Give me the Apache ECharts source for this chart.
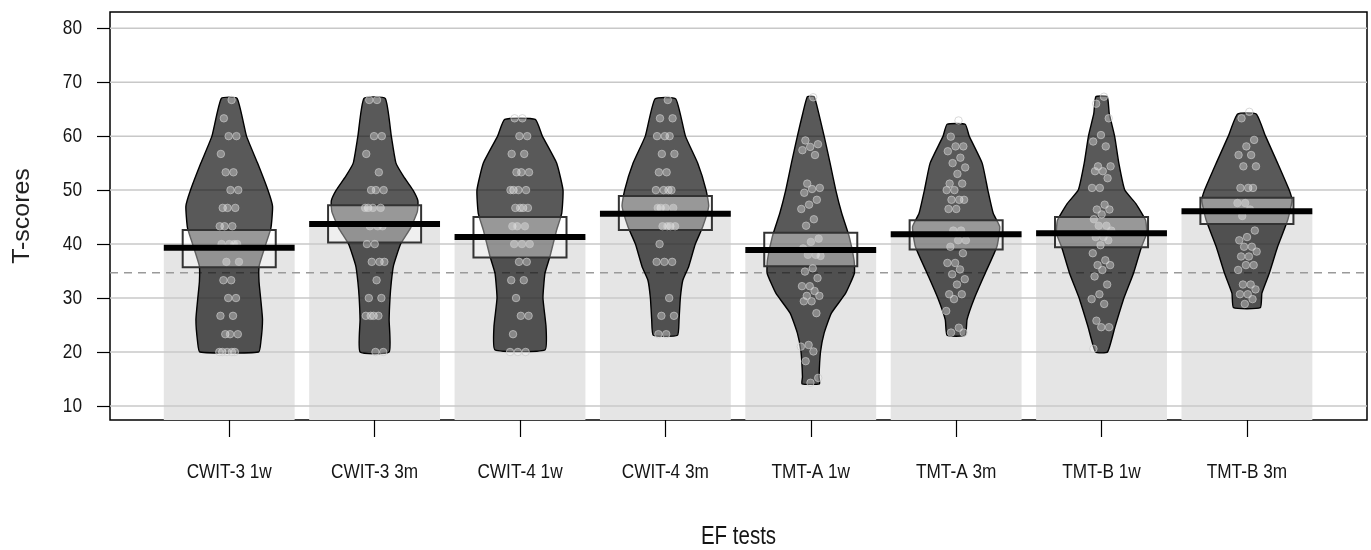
<!DOCTYPE html>
<html>
<head>
<meta charset="utf-8">
<script src="https://cdn.jsdelivr.net/npm/echarts@6/dist/echarts.min.js"></script>
<style>
html,body{margin:0;padding:0;background:#fff;}
#chart{width:1371px;height:550px;}
</style>
</head>
<body>
<div id="chart"></div>
<script>
const categories = ['CWIT-3 1w','CWIT-3 3m','CWIT-4 1w','CWIT-4 3m','TMT-A 1w','TMT-A 3m','TMT-B 1w','TMT-B 3m'];
const yTicks = [10,20,30,40,50,60,70,80];
const means   = [39.3, 43.7, 41.3, 45.6, 38.9, 41.8, 42.0, 46.1];
const hdiLow  = [35.7, 40.3, 37.5, 42.6, 35.9, 39.0, 39.4, 43.7];
const hdiHigh = [42.6, 47.2, 45.0, 48.9, 42.1, 44.4, 45.0, 48.6];
const refLine = 34.7;
const xTitle = 'EF tests';
const yTitle = 'T-scores';

// bean outlines: [T-score, half width in category units]
const beanCWIT3_1w = [[20,0.202],[22,0.218],[26,0.229],[30,0.216],[33,0.205],[36,0.206],[40,0.252],[43,0.287],[47,0.298],[50,0.266],[55,0.195],[60,0.119],[67,0.054]];
const beanCWIT3_3m = [[20,0.10],[26,0.10],[30,0.106],[33,0.115],[36,0.13],[40,0.179],[43,0.248],[46,0.294],[48,0.298],[50,0.264],[52.5,0.20],[55,0.147],[60,0.115],[67,0.073]];
const beanCWIT4_1w = [[20.4,0.172],[24.7,0.179],[30,0.158],[34.6,0.172],[37.7,0.206],[42.6,0.252],[45.7,0.287],[50,0.296],[55,0.252],[60,0.154],[63.1,0.105]];
const beanCWIT4_3m = [[23.1,0.083],[26,0.094],[30,0.103],[33.3,0.12],[35.8,0.16],[40,0.206],[43.2,0.257],[47,0.298],[50,0.28],[55,0.222],[60,0.138],[66.9,0.071]];
const beanTMTA_1w  = [[14.1,0.06],[15.4,0.057],[20,0.067],[23.5,0.092],[27.2,0.142],[30.9,0.24],[34.6,0.30],[37,0.298],[41.4,0.264],[45.7,0.213],[50,0.172],[55,0.133],[60,0.092],[64.2,0.055],[67.3,0.023]];
const beanTMTA_3m  = [[23.1,0.062],[26,0.075],[30,0.126],[34.6,0.2],[39.5,0.28],[43.2,0.30],[45.7,0.255],[50,0.218],[55,0.179],[60,0.09],[62.2,0.062]];
const beanTMTB_1w  = [[20,0.041],[24.6,0.092],[30,0.154],[34.6,0.22],[39.5,0.275],[42,0.31],[44.4,0.303],[47.5,0.236],[50,0.16],[55,0.119],[60,0.09],[64.2,0.053],[67.3,0.039]];
const beanTMTB_3m  = [[28.2,0.092],[30.9,0.103],[34.6,0.154],[39.5,0.211],[44.4,0.28],[48,0.31],[50,0.291],[55,0.211],[60,0.128],[64.1,0.064]];
const beans = [beanCWIT3_1w, beanCWIT3_3m, beanCWIT4_1w, beanCWIT4_3m, beanTMTA_1w, beanTMTA_3m, beanTMTB_1w, beanTMTB_3m];

// raw points
const ptsCWIT3_1w = [66.7,63.3,60,60,56.7,53.3,53.3,50,50,46.7,46.7,46.7,43.3,43.3,43.3,40,40,40,40,36.7,36.7,33.3,33.3,30,30,26.7,26.7,23.3,23.3,23.3,20,20,20,20,20];
const ptsCWIT3_3m = [66.7,66.7,60,60,56.7,53.3,50,50,50,46.7,46.7,46.7,46.7,43.3,43.3,43.3,40,40,36.7,36.7,36.7,33.3,30,30,26.7,26.7,26.7,26.7,20,20];
const ptsCWIT4_1w = [63.3,63.3,60,60,56.7,56.7,53.3,53.3,53.3,50,50,50,50,46.7,46.7,46.7,46.7,43.3,43.3,43.3,40,40,40,36.7,36.7,33.3,33.3,30,26.7,26.7,23.3,20,20,20];
const ptsCWIT4_3m = [66.7,63.3,63.3,60,60,60,56.7,56.7,53.3,53.3,50,50,50,50,46.7,46.7,46.7,46.7,43.3,43.3,43.3,43.3,40,36.7,36.7,36.7,30,26.7,26.7,23.3,23.3];
const ptsTMTA_1w  = [67.2,59.2,58.5,58.0,57.4,56.5,51.2,50.4,50.2,49.5,48.2,47.3,46.5,44.6,43.4,41.0,40.4,39.2,38.0,38.0,37.8,35.5,34.9,33.7,32.2,32.2,31.3,30.4,30.4,29.4,29.4,27.2,21.3,21.0,20.1,18.3,15.2,14.3];
const ptsTMTA_3m  = [62.9,59.9,58.1,58.1,57.2,56.0,55.0,54.2,53.0,51.2,51.2,50.0,50.0,48.2,48.2,48.2,46.5,46.5,42.5,42.5,40.7,40.7,39.5,38.3,36.5,36.5,35.3,34.4,33.5,32.5,30.7,30.7,29.8,27.6,24.5,23.6,23.6];
const ptsTMTB_1w  = [67.3,66.0,63.3,60.2,59.0,58.1,54.4,54.4,53.5,53.5,52.2,50.4,50.4,47.3,46.4,46.4,45.5,44.6,43.4,43.4,42.5,41.3,41.3,40.7,39.8,38.3,37.0,36.1,36.1,35.2,34.0,32.5,30.7,29.8,28.9,25.8,24.6,24.6,20.6];
const ptsTMTB_3m  = [64.5,63.3,59.3,58.1,56.5,56.5,54.4,54.4,50.4,50.4,50.4,47.6,47.6,46.4,45.2,42.5,41.3,40.7,39.5,39.5,38.6,37.7,37.7,36.1,36.1,35.2,32.5,32.5,31.6,30.7,30.7,29.8,28.9];
const points = [ptsCWIT3_1w, ptsCWIT3_3m, ptsCWIT4_1w, ptsCWIT4_3m, ptsTMTA_1w, ptsTMTA_3m, ptsTMTB_1w, ptsTMTB_3m];

const X_MIN = 0.18, X_MAX = 8.826, Y_MIN = 7.4, Y_MAX = 83;
const BAR_HALF = 0.45, BOX_HALF = 0.32, JIT = 0.14;
const FONT = "'Liberation Sans', Arial, sans-serif";
const NARROW = 0.82;

const idxData = categories.map((c, i) => [i + 1, means[i]]);
const scatterData = [];
points.forEach((arr, g) => {
  arr.forEach((v, k) => {
    const j = (((k + 1) * 0.6180339887) % 1 - 0.5) * JIT;
    scatterData.push([g + 1 + j, v]);
  });
});

const chart = echarts.init(document.getElementById('chart'), null, {renderer: 'canvas'});
chart.setOption({
  animation: false,
  backgroundColor: '#fff',
  grid: {left: 110, top: 12, right: 4, bottom: 130, show: true, borderColor: '#000', borderWidth: 1.5, backgroundColor: 'transparent'},
  xAxis: {
    type: 'value', min: X_MIN, max: X_MAX,
    axisLine: {show: false},
    splitLine: {show: false},
    axisTick: {show: true, customValues: [1,2,3,4,5,6,7,8], length: 17, lineStyle: {color: '#000', width: 1.2}},
    axisLabel: {show: false}
  },
  yAxis: {
    type: 'value', min: Y_MIN, max: Y_MAX,
    axisLine: {show: false},
    splitLine: {show: false},
    axisTick: {show: true, customValues: yTicks, length: 13, lineStyle: {color: '#000', width: 1.2}},
    axisLabel: {show: false}
  },
  series: [
    { // bars
      type: 'custom', z: 1, silent: true, data: idxData, encode: {x: 0, y: 1},
      renderItem: (params, api) => {
        const x = api.value(0), m = api.value(1);
        const p0 = api.coord([x - BAR_HALF, m]);
        const p1 = api.coord([x + BAR_HALF, Y_MIN]);
        return {type: 'rect', shape: {x: p0[0], y: p0[1], width: p1[0] - p0[0], height: p1[1] - p0[1]}, style: {fill: '#e5e5e5'}};
      }
    },
    { // horizontal grid lines + y tick labels
      type: 'custom', z: 2, silent: true, clip: false, data: yTicks.map(v => [X_MIN, v]), encode: {x: 0, y: 1},
      renderItem: (params, api) => {
        const v = api.value(1);
        const a = api.coord([X_MIN, v]), b = api.coord([X_MAX, v]);
        return {type: 'group', children: [
          {type: 'line', shape: {x1: a[0], y1: a[1], x2: b[0], y2: b[1]}, style: {stroke: '#c8c8c8', lineWidth: 1.5}},
          {type: 'text', x: a[0] - 28, y: a[1], scaleX: NARROW, style: {text: String(yTicks[params.dataIndex]), fontSize: 21, fontFamily: FONT, fill: '#151515', align: 'right', verticalAlign: 'middle'}}
        ]};
      }
    },
    { // reference dashed line
      type: 'custom', z: 2, silent: true, data: [[X_MIN, refLine]], encode: {x: 0, y: 1},
      renderItem: (params, api) => {
        const v = api.value(1);
        const a = api.coord([X_MIN, v]), b = api.coord([X_MAX, v]);
        return {type: 'line', shape: {x1: a[0], y1: a[1], x2: b[0], y2: b[1]}, style: {stroke: '#9a9a9a', lineWidth: 1.5, lineDash: [8, 6]}};
      }
    },
    { // beans
      type: 'custom', z: 3, silent: true, data: idxData, encode: {x: 0, y: 1},
      renderItem: (params, api) => {
        const g = params.dataIndex, x = api.value(0);
        const prof = beans[g];
        const pts = [];
        for (let i = 0; i < prof.length; i++) pts.push(api.coord([x + prof[i][1], prof[i][0]]));
        for (let i = prof.length - 1; i >= 0; i--) pts.push(api.coord([x - prof[i][1], prof[i][0]]));
        return {type: 'polygon', shape: {points: pts, smooth: 0.15}, style: {fill: 'rgba(0,0,0,0.65)', stroke: '#000', lineWidth: 1.4}};
      }
    },
    { // inference boxes
      type: 'custom', z: 4, silent: true, data: idxData, encode: {x: 0, y: 1},
      renderItem: (params, api) => {
        const g = params.dataIndex, x = api.value(0);
        const p0 = api.coord([x - BOX_HALF, hdiHigh[g]]);
        const p1 = api.coord([x + BOX_HALF, hdiLow[g]]);
        return {type: 'rect', shape: {x: p0[0], y: p0[1], width: p1[0] - p0[0], height: p1[1] - p0[1]}, style: {fill: 'rgba(255,255,255,0.38)', stroke: '#333', lineWidth: 2}};
      }
    },
    { // raw points
      type: 'scatter', z: 5, silent: true, data: scatterData, symbol: 'circle', symbolSize: 7.5,
      itemStyle: {color: 'rgba(255,255,255,0.4)', borderColor: 'rgba(200,200,200,0.85)', borderWidth: 1}
    },
    { // mean lines + category labels
      type: 'custom', z: 6, silent: true, clip: false, data: idxData, encode: {x: 0, y: 1},
      renderItem: (params, api) => {
        const x = api.value(0), m = api.value(1);
        const a = api.coord([x - BAR_HALF, m]), b = api.coord([x + BAR_HALF, m]);
        const base = api.coord([x, Y_MIN]);
        return {type: 'group', children: [
          {type: 'line', shape: {x1: a[0], y1: a[1], x2: b[0], y2: b[1]}, style: {stroke: '#000', lineWidth: 6}},
          {type: 'text', x: base[0], y: base[1] + 52, scaleX: NARROW, style: {text: categories[params.dataIndex], fontSize: 21, fontFamily: FONT, fill: '#151515', align: 'center', verticalAlign: 'middle'}}
        ]};
      }
    },
    { // axis titles
      type: 'custom', z: 6, silent: true, clip: false, data: [[X_MIN, Y_MIN]], encode: {x: 0, y: 1},
      renderItem: (params, api) => {
        const bl = api.coord([X_MIN, Y_MIN]), tr = api.coord([X_MAX, Y_MAX]);
        const cx = (bl[0] + tr[0]) / 2, cy = (bl[1] + tr[1]) / 2;
        return {type: 'group', children: [
          {type: 'text', x: cx, y: bl[1] + 117, scaleX: NARROW, style: {text: xTitle, fontSize: 25, fontFamily: FONT, fill: '#151515', align: 'center', verticalAlign: 'middle'}},
          {type: 'text', x: bl[0] - 88, y: cy, rotation: Math.PI / 2, scaleX: 1.04, style: {text: yTitle, fontSize: 24, fontFamily: FONT, fill: '#222', align: 'center', verticalAlign: 'middle'}}
        ]};
      }
    }
  ]
});
</script>
</body>
</html>
